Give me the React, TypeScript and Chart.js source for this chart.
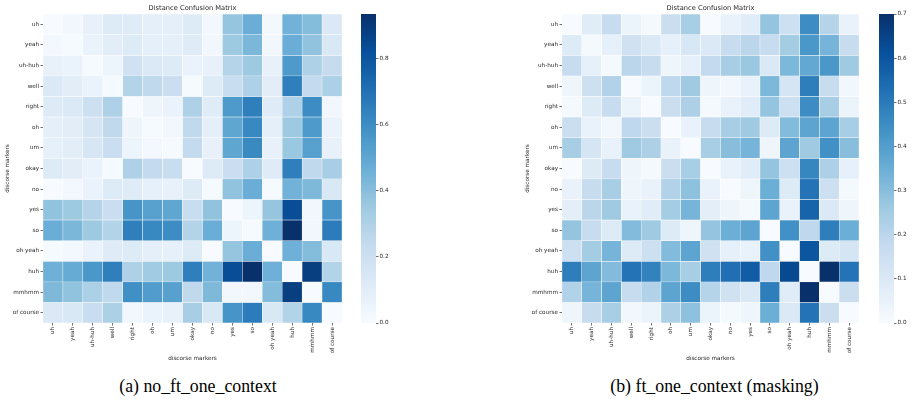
import React, { useEffect, useRef } from "react";
import { Chart, registerables } from "chart.js";

Chart.register(...registerables);

const FONT = "DejaVu Sans";
const TEXT = "#262626";

const markers = ["uh", "yeah", "uh-huh", "well", "right", "oh", "um", "okay", "no", "yes", "so", "oh yeah", "huh", "mmhmm", "of course"];

// (a) no_ft_one_context — rows in the order of markers
const noFtOneContext = [
  [0.00, 0.03, 0.07, 0.12, 0.11, 0.09, 0.09, 0.12, 0.02, 0.37, 0.47, 0.02, 0.45, 0.41, 0.13],
  [0.02, 0.01, 0.06, 0.10, 0.12, 0.09, 0.09, 0.11, 0.03, 0.35, 0.43, 0.03, 0.47, 0.38, 0.14],
  [0.07, 0.06, 0.01, 0.05, 0.19, 0.13, 0.12, 0.06, 0.07, 0.28, 0.35, 0.07, 0.55, 0.30, 0.23],
  [0.13, 0.10, 0.06, 0.01, 0.29, 0.25, 0.21, 0.01, 0.12, 0.22, 0.30, 0.10, 0.65, 0.24, 0.31],
  [0.12, 0.13, 0.20, 0.30, 0.00, 0.04, 0.06, 0.30, 0.11, 0.55, 0.65, 0.11, 0.30, 0.60, 0.03],
  [0.09, 0.10, 0.16, 0.25, 0.04, 0.01, 0.03, 0.25, 0.09, 0.50, 0.62, 0.09, 0.35, 0.55, 0.06],
  [0.08, 0.10, 0.15, 0.21, 0.05, 0.02, 0.01, 0.24, 0.07, 0.50, 0.61, 0.07, 0.36, 0.52, 0.07],
  [0.12, 0.10, 0.06, 0.01, 0.30, 0.24, 0.22, 0.00, 0.12, 0.21, 0.30, 0.11, 0.65, 0.25, 0.32],
  [0.00, 0.02, 0.06, 0.12, 0.11, 0.08, 0.07, 0.12, 0.01, 0.38, 0.47, 0.01, 0.45, 0.42, 0.14],
  [0.38, 0.35, 0.28, 0.21, 0.57, 0.52, 0.50, 0.22, 0.38, 0.00, 0.05, 0.37, 0.83, 0.03, 0.57],
  [0.47, 0.43, 0.35, 0.29, 0.65, 0.62, 0.60, 0.29, 0.47, 0.05, 0.01, 0.46, 0.933, 0.03, 0.66],
  [0.01, 0.02, 0.06, 0.11, 0.12, 0.09, 0.08, 0.12, 0.00, 0.37, 0.47, 0.00, 0.46, 0.41, 0.14],
  [0.46, 0.48, 0.56, 0.65, 0.30, 0.34, 0.35, 0.65, 0.45, 0.83, 0.93, 0.46, 0.00, 0.88, 0.29],
  [0.42, 0.38, 0.31, 0.25, 0.59, 0.54, 0.52, 0.25, 0.42, 0.03, 0.03, 0.41, 0.88, 0.00, 0.62],
  [0.13, 0.14, 0.22, 0.31, 0.03, 0.06, 0.07, 0.32, 0.14, 0.57, 0.66, 0.14, 0.29, 0.62, 0.00],
];

// (b) ft_one_context (masking)
const ftOneContextMasking = [
  [0.00, 0.08, 0.17, 0.04, 0.01, 0.16, 0.24, 0.00, 0.05, 0.08, 0.28, 0.15, 0.45, 0.21, 0.05],
  [0.09, 0.01, 0.06, 0.14, 0.10, 0.06, 0.11, 0.10, 0.17, 0.20, 0.17, 0.25, 0.42, 0.33, 0.17],
  [0.17, 0.06, 0.01, 0.20, 0.17, 0.03, 0.06, 0.18, 0.24, 0.27, 0.10, 0.32, 0.37, 0.42, 0.26],
  [0.03, 0.15, 0.22, 0.00, 0.04, 0.19, 0.26, 0.03, 0.02, 0.05, 0.32, 0.12, 0.49, 0.17, 0.02],
  [0.01, 0.09, 0.17, 0.04, 0.00, 0.16, 0.23, 0.01, 0.05, 0.08, 0.28, 0.15, 0.45, 0.24, 0.04],
  [0.16, 0.05, 0.02, 0.19, 0.16, 0.00, 0.05, 0.17, 0.24, 0.26, 0.09, 0.31, 0.38, 0.38, 0.24],
  [0.24, 0.12, 0.05, 0.26, 0.23, 0.05, 0.00, 0.24, 0.30, 0.33, 0.03, 0.38, 0.26, 0.44, 0.30],
  [0.00, 0.09, 0.17, 0.03, 0.01, 0.16, 0.24, 0.00, 0.05, 0.08, 0.28, 0.15, 0.47, 0.23, 0.06],
  [0.05, 0.17, 0.24, 0.03, 0.05, 0.22, 0.29, 0.05, 0.00, 0.03, 0.35, 0.09, 0.52, 0.15, 0.01],
  [0.07, 0.20, 0.26, 0.05, 0.08, 0.25, 0.33, 0.07, 0.03, 0.01, 0.38, 0.05, 0.56, 0.10, 0.03],
  [0.28, 0.17, 0.09, 0.31, 0.26, 0.09, 0.03, 0.28, 0.35, 0.38, 0.00, 0.44, 0.19, 0.49, 0.35],
  [0.15, 0.25, 0.33, 0.09, 0.15, 0.31, 0.38, 0.14, 0.06, 0.05, 0.44, 0.00, 0.60, 0.09, 0.12],
  [0.49, 0.38, 0.31, 0.52, 0.48, 0.32, 0.24, 0.49, 0.53, 0.58, 0.19, 0.63, 0.00, 0.70, 0.52],
  [0.22, 0.33, 0.38, 0.17, 0.22, 0.38, 0.45, 0.21, 0.14, 0.10, 0.49, 0.08, 0.70, 0.00, 0.16],
  [0.03, 0.17, 0.24, 0.02, 0.04, 0.23, 0.29, 0.04, 0.01, 0.03, 0.35, 0.10, 0.52, 0.16, 0.00],
];

const leftBarTicks = [0, 0.2, 0.4, 0.6, 0.8];
const rightBarTicks = [0, 0.1, 0.2, 0.3, 0.4, 0.5, 0.6, 0.7];

const BLUES = ["#f7fbff", "#deebf7", "#c6dbef", "#9ecae1", "#6baed6", "#4292c6", "#2171b5", "#08519c", "#08306b"];

function hexRgb(h: string) {
  return [parseInt(h.slice(1, 3), 16), parseInt(h.slice(3, 5), 16), parseInt(h.slice(5, 7), 16)];
}

function blues(t: number) {
  const c = Math.max(0, Math.min(1, t)) * 8;
  const i = Math.min(7, Math.floor(c));
  const f = c - i;
  const a = hexRgb(BLUES[i]);
  const b = hexRgb(BLUES[i + 1]);
  const m = a.map((v, k) => Math.round(v + (b[k] - v) * f));
  return `rgb(${m[0]},${m[1]},${m[2]})`;
}

const tickFont = { family: FONT, size: 5.7 };

function Heatmap({ matrix, left, width, yAxisWidth }: { matrix: number[][]; left: number; width: number; yAxisWidth: number }) {
  const ref = useRef<HTMLCanvasElement>(null);
  useEffect(() => {
    if (!ref.current) return;
    const vmax = Math.max(...matrix.flat());
    const datasets = matrix.map((row, i) => ({
      label: markers[i],
      data: row.map(() => 1),
      backgroundColor: row.map((v) => blues(v / vmax)),
      borderColor: "#ffffff",
      borderWidth: 0.5,
      borderSkipped: false as const,
      categoryPercentage: 1,
      barPercentage: 1,
    }));
    const gridOpts = { drawOnChartArea: false, drawTicks: true, tickLength: 2.5, color: "#333", lineWidth: 0.7 };
    const chart = new Chart(ref.current, {
      type: "bar",
      data: { labels: markers, datasets },
      options: {
        responsive: false,
        animation: false,
        devicePixelRatio: 1,
        layout: { padding: 0 },
        plugins: {
          legend: { display: false },
          tooltip: { enabled: false },
          title: {
            display: true,
            text: "Distance Confusion Matrix",
            fullSize: false,
            color: TEXT,
            font: { family: FONT, size: 6.7, weight: "normal" },
            padding: { top: 4, bottom: 2 },
          },
        },
        scales: {
          x: {
            type: "category",
            stacked: true,
            offset: true,
            grid: { ...gridOpts, offset: false },
            border: { display: false },
            ticks: { autoSkip: false, minRotation: 90, maxRotation: 90, padding: 1.5, font: tickFont, color: TEXT },
            title: { display: true, text: "discorse markers", color: TEXT, font: tickFont, padding: { top: 4, bottom: 4 } },
            afterFit: (s: any) => {
              s.height = 43;
              s.paddingLeft = 0;
              s.paddingRight = 0;
            },
          },
          y: {
            type: "linear",
            stacked: true,
            min: 0,
            max: markers.length,
            reverse: true,
            afterBuildTicks: (s: any) => {
              s.ticks = markers.map((_, i) => ({ value: i + 0.5 }));
            },
            grid: gridOpts,
            border: { display: false },
            ticks: { autoSkip: false, padding: 1.5, font: tickFont, color: TEXT, callback: (_v: any, i: number) => markers[i] },
            title: { display: true, text: "discorse markers", color: TEXT, font: tickFont, padding: { top: 4, bottom: 4 } },
            afterFit: (s: any) => {
              s.width = yAxisWidth;
              s.paddingTop = 0;
              s.paddingBottom = 0;
            },
          },
        },
      } as any,
    });
    return () => chart.destroy();
  }, []);
  return <canvas ref={ref} width={width} height={366} style={{ position: "absolute", left, top: 0, width, height: 366 }} />;
}

function ColorBar({ matrix, ticks, left }: { matrix: number[][]; ticks: number[]; left: number }) {
  const ref = useRef<HTMLCanvasElement>(null);
  useEffect(() => {
    if (!ref.current) return;
    const vmax = Math.max(...matrix.flat());
    const chart = new Chart(ref.current, {
      type: "bar",
      data: {
        labels: [""],
        datasets: [
          {
            data: [vmax],
            borderWidth: 0,
            categoryPercentage: 1,
            barPercentage: 1,
            backgroundColor: (ctx: any) => {
              const ca = ctx.chart.chartArea;
              if (!ca) return BLUES[0];
              const g = ctx.chart.ctx.createLinearGradient(0, ca.bottom, 0, ca.top);
              BLUES.forEach((c, i) => g.addColorStop(i / 8, c));
              return g;
            },
          },
        ],
      },
      options: {
        responsive: false,
        animation: false,
        devicePixelRatio: 1,
        layout: { padding: { left: 6, top: 14, bottom: 17, right: 0 } },
        plugins: { legend: { display: false }, tooltip: { enabled: false } },
        scales: {
          x: { display: false, offset: true },
          y: {
            position: "right",
            min: 0,
            max: vmax,
            afterBuildTicks: (s: any) => {
              s.ticks = ticks.map((v) => ({ value: v }));
            },
            grid: { drawOnChartArea: false, drawTicks: true, tickLength: 2.5, color: "#333", lineWidth: 0.7 },
            border: { display: false },
            ticks: { padding: 1, font: tickFont, color: TEXT, callback: (v: any) => Number(v).toFixed(1) },
            afterFit: (s: any) => {
              s.width = 30;
              s.paddingTop = 0;
              s.paddingBottom = 0;
            },
          },
        },
      } as any,
    });
    return () => chart.destroy();
  }, []);
  return <canvas ref={ref} width={51} height={340} style={{ position: "absolute", left, top: 0, width: 51, height: 340 }} />;
}

const captionStyle: React.CSSProperties = {
  position: "absolute",
  top: 376,
  width: 400,
  textAlign: "center",
  fontFamily: "'Liberation Serif', 'Times New Roman', serif",
  fontSize: 17.8,
  lineHeight: "20px",
  color: "#000",
  whiteSpace: "nowrap",
};

export default function App() {
  return (
    <div style={{ position: "fixed", left: 0, top: 0, width: 913, height: 401, background: "#fff", overflow: "hidden" }}>
      <Heatmap matrix={noFtOneContext} left={0} width={342} yAxisWidth={43} />
      <ColorBar matrix={noFtOneContext} ticks={leftBarTicks} left={355} />
      <Heatmap matrix={ftOneContextMasking} left={520} width={339} yAxisWidth={42} />
      <ColorBar matrix={ftOneContextMasking} ticks={rightBarTicks} left={873} />
      <div style={{ ...captionStyle, left: 198 - 200 }}>(a) no_ft_one_context</div>
      <div style={{ ...captionStyle, left: 714.5 - 200 }}>(b) ft_one_context (masking)</div>
    </div>
  );
}
